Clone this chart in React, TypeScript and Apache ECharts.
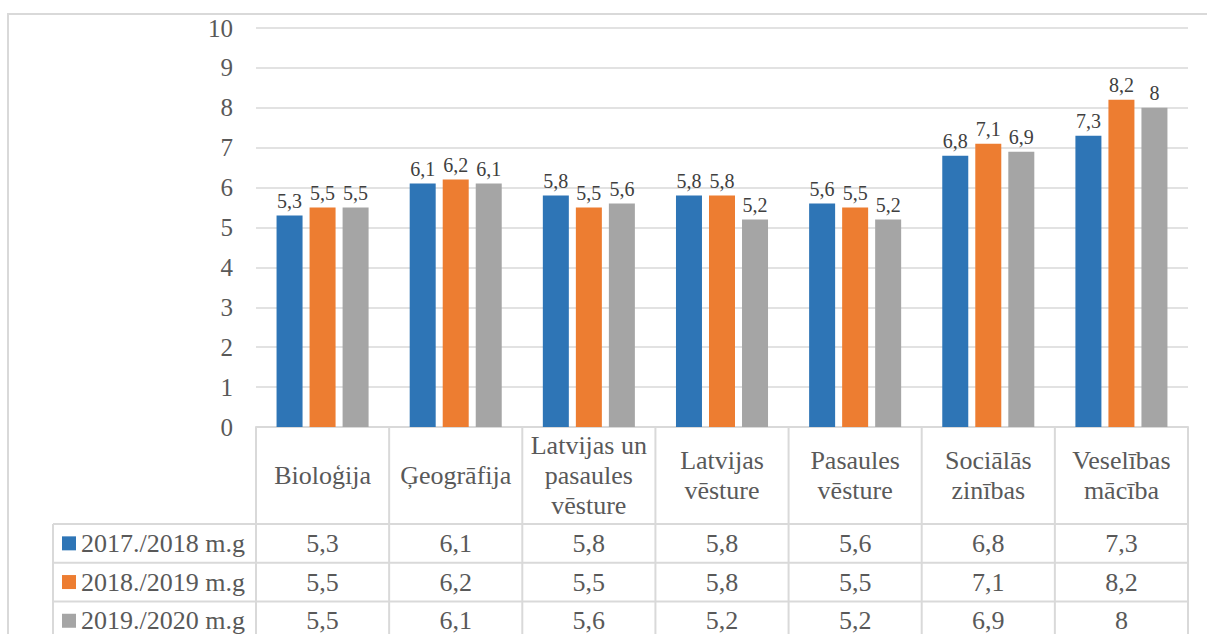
import React, { useEffect, useRef } from "react";
import * as echarts from "echarts";

const categories = [
  "Bioloģija",
  "Ģeogrāfija",
  "Latvijas un\npasaules\nvēsture",
  "Latvijas\nvēsture",
  "Pasaules\nvēsture",
  "Sociālās\nzinības",
  "Veselības\nmācība",
];
const seriesNames = ["2017./2018 m.g", "2018./2019 m.g", "2019./2020 m.g"];
const values2017 = [5.3, 6.1, 5.8, 5.8, 5.6, 6.8, 7.3];
const values2018 = [5.5, 6.2, 5.5, 5.8, 5.5, 7.1, 8.2];
const values2019 = [5.5, 6.1, 5.6, 5.2, 5.2, 6.9, 8];
const colors = ["#2E75B6", "#ED7D31", "#A5A5A5"];
const yMin = 0;
const yMax = 10;
const yInterval = 1;

const W = 1207;
const H = 634;
const FONT = '"Liberation Serif", "Times New Roman", serif';
const LINE = "#d9d9d9";
const TEXT = "#595959";

const plotLeft = 256;
const plotRight = 1188;
const plotTop = 28;
const plotBottom = 427;
const headerBottom = 524;
const rowH = 38.7;
const legendLeft = 53;

const fmt = (v: number) => String(v).replace(".", ",");

export default function App() {
  const ref = useRef<HTMLDivElement>(null);
  useEffect(() => {
    if (!ref.current) return;
    const chart = echarts.init(ref.current, undefined, { renderer: "svg" });
    const allSeries = [values2017, values2018, values2019];
    const n = categories.length;
    const colW = (plotRight - plotLeft) / n;
    const tableBottom = headerBottom + rowH * 3 + 10;

    const g: any[] = [];
    g.push({
      type: "rect",
      silent: true,
      shape: { x: 8, y: 14, width: W + 20, height: H + 40 },
      style: { fill: "none", stroke: LINE, lineWidth: 2 },
    });
    for (let k = 0; k <= n; k++) {
      const x = plotLeft + k * colW;
      g.push({
        type: "line",
        silent: true,
        shape: { x1: x, y1: plotBottom, x2: x, y2: tableBottom },
        style: { stroke: LINE, lineWidth: 2 },
      });
    }
    g.push({
      type: "line",
      silent: true,
      shape: { x1: legendLeft, y1: headerBottom, x2: legendLeft, y2: tableBottom },
      style: { stroke: LINE, lineWidth: 2 },
    });
    for (let r = 0; r <= 3; r++) {
      const y = headerBottom + r * rowH;
      g.push({
        type: "line",
        silent: true,
        shape: { x1: legendLeft, y1: y, x2: plotRight, y2: y },
        style: { stroke: LINE, lineWidth: 2 },
      });
    }
    allSeries.forEach((vals, r) => {
      const cy = headerBottom + r * rowH + rowH / 2;
      g.push({
        type: "rect",
        silent: true,
        shape: { x: 62, y: cy - 7, width: 14, height: 14 },
        style: { fill: colors[r] },
      });
      g.push({
        type: "text",
        silent: true,
        x: 81,
        y: cy,
        style: {
          text: seriesNames[r],
          fill: TEXT,
          fontSize: 26,
          fontFamily: FONT,
          align: "left",
          verticalAlign: "middle",
          textAlign: "left",
          textVerticalAlign: "middle",
        },
      });
      vals.forEach((v, j) => {
        g.push({
          type: "text",
          silent: true,
          x: plotLeft + (j + 0.5) * colW,
          y: cy,
          style: {
            text: fmt(v),
            fill: TEXT,
            fontSize: 26,
            fontFamily: FONT,
            align: "center",
            verticalAlign: "middle",
            textAlign: "center",
            textVerticalAlign: "middle",
          },
        });
      });
    });

    const option: any = {
      animation: false,
      backgroundColor: "#ffffff",
      grid: {
        left: plotLeft,
        right: W - plotRight,
        top: plotTop,
        bottom: H - plotBottom,
        containLabel: false,
      },
      xAxis: {
        type: "category",
        data: categories,
        axisLine: { show: true, lineStyle: { color: LINE, width: 2 } },
        axisTick: { show: false },
        axisLabel: {
          interval: 0,
          margin: (headerBottom - plotBottom) / 2,
          verticalAlign: "middle",
          color: TEXT,
          fontSize: 26,
          lineHeight: 30,
          fontFamily: FONT,
          align: "center",
        },
      },
      yAxis: {
        type: "value",
        min: yMin,
        max: yMax,
        interval: yInterval,
        axisLine: { show: false },
        axisTick: { show: false },
        splitLine: { lineStyle: { color: LINE, width: 1.5 } },
        axisLabel: {
          color: TEXT,
          fontSize: 25,
          fontFamily: FONT,
          margin: 23,
        },
      },
      series: allSeries.map((vals, i) => ({
        type: "bar",
        name: seriesNames[i],
        data: vals,
        barWidth: 26,
        barGap: "27%",
        itemStyle: { color: colors[i] },
        label: {
          show: true,
          position: "top",
          distance: 5,
          color: "#404040",
          fontSize: 20,
          fontFamily: FONT,
          formatter: (p: any) => fmt(p.value),
        },
      })),
      graphic: { elements: g },
    };
    chart.setOption(option);
    return () => chart.dispose();
  }, []);
  return (
    <div
      ref={ref}
      style={{ position: "fixed", left: 0, top: 0, width: W, height: H }}
    />
  );
}
